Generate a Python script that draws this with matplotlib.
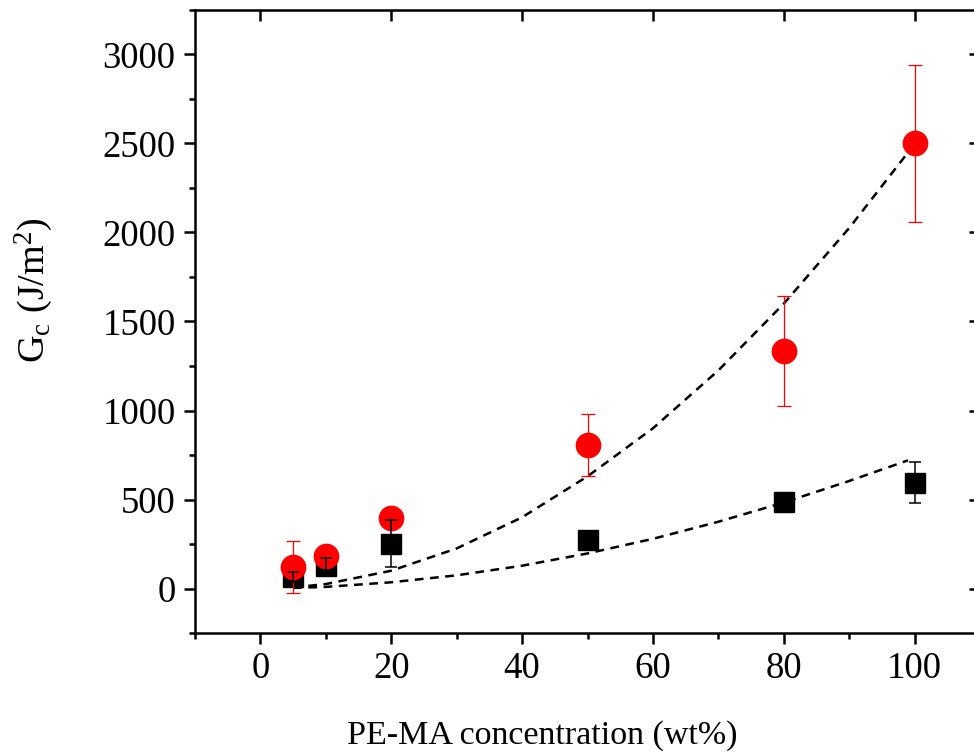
import matplotlib
matplotlib.use("Agg")
import matplotlib.pyplot as plt
from matplotlib.ticker import MultipleLocator

plt.rcParams["font.family"] = ["Liberation Serif", "DejaVu Serif"]
plt.rcParams["mathtext.fontset"] = "custom"
plt.rcParams["mathtext.rm"] = "Liberation Serif"
plt.rcParams["mathtext.it"] = "Liberation Serif:italic"

# PE-MA content (wt%)
conc = [5, 10, 20, 50, 80, 100]

# fracture energy, square series (black)
gc_black = [62, 124, 252, 270, 485, 595]
err_black = [28, 50, 133, 20, 20, 115]

# fracture energy, circle series (red)
gc_red = [120, 180, 395, 805, 1335, 2500]
err_red = [145, 20, 20, 175, 310, 440]

# fitted trend curves (dashed)
fit_x = [5, 10, 20, 30, 40, 50, 60, 70, 80, 90, 99]
fit_red = [6, 25, 100, 225, 400, 630, 900, 1225, 1600, 2025, 2450]
fit_black = [3, 9, 35, 74, 128, 197, 279, 375, 483, 604, 720]

fig = plt.figure(figsize=(9.74, 7.55), dpi=100)
ax = fig.add_axes([195 / 974, 1 - 633 / 755, 785 / 974, 623 / 755])

ax.plot(fit_x, fit_red, color="black", lw=1.8, dashes=(3.5, 2.6), zorder=1)
ax.plot(fit_x, fit_black, color="black", lw=1.8, dashes=(3.5, 2.6), zorder=1)

ax.plot(conc, gc_black, ls="none", marker="s", ms=15, color="black", zorder=2)
ax.errorbar(conc, gc_red, yerr=err_red, fmt="o", ms=17.5, color="red",
            ecolor="red", elinewidth=0.9, capsize=4.8, capthick=0.9, zorder=3)
ax.errorbar(conc, gc_black, yerr=err_black, fmt="none", ecolor="black",
            elinewidth=1.1, capsize=4.5, capthick=1.1, zorder=4)

ax.set_xlim(-10, 110)
ax.set_ylim(-250, 3250)
ax.xaxis.set_major_locator(MultipleLocator(20))
ax.xaxis.set_minor_locator(MultipleLocator(10))
ax.yaxis.set_major_locator(MultipleLocator(500))
ax.yaxis.set_minor_locator(MultipleLocator(250))

for sp in ax.spines.values():
    sp.set_linewidth(1.8)
ax.tick_params(which="major", direction="out", length=8, width=1.8,
               labelsize=26.5, pad=5)
ax.tick_params(which="minor", direction="out", length=4, width=1.8)
ax.tick_params(axis="y", which="major", pad=6)

# mirrored inward ticks on the top and right sides
top = ax.secondary_xaxis("top")
top.set_xticks([0, 20, 40, 60, 80, 100])
top.tick_params(direction="in", length=8, width=1.8, labeltop=False)
right = ax.secondary_yaxis("right")
right.set_yticks([0, 500, 1000, 1500, 2000, 2500, 3000])
right.tick_params(direction="in", length=8, width=1.8, labelright=False)

ax.set_xlabel("PE-MA concentration (wt%)", fontsize=24.5)
ax.xaxis.set_label_coords(0.442, -0.14)
ax.set_ylabel(r"G$_\mathregular{c}$ (J/m$^\mathregular{2}$)", fontsize=27.5)
ax.yaxis.set_label_coords(-0.178, 0.5 + (321 - 290) / 623)

fig.savefig("out.png", dpi=100)
